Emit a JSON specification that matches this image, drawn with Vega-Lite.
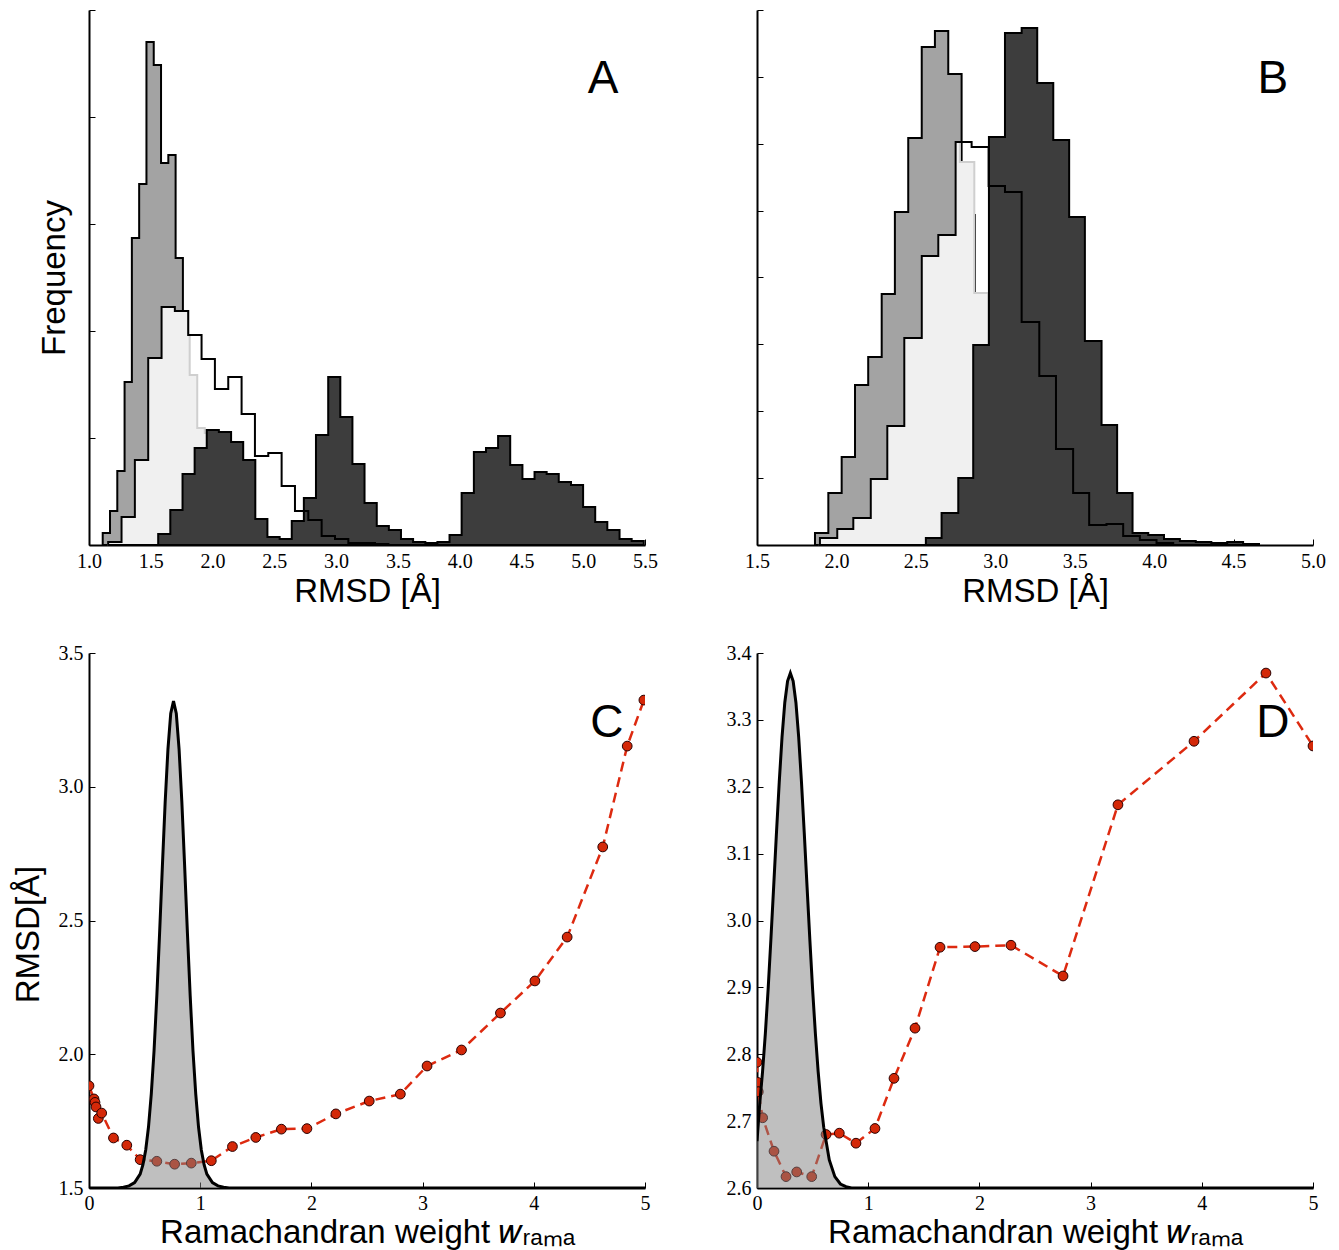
{
  "$schema": "https://vega.github.io/schema/vega-lite/v6.json",
  "background": "white",
  "padding": {"left": 12, "top": 9, "right": 5, "bottom": 2},
  "config": {
    "view": {"stroke": null},
    "font": "Liberation Sans",
    "axis": {
      "zindex": 1,
      "grid": false,
      "domainColor": "black",
      "domainWidth": 2,
      "tickColor": "black",
      "tickSize": -6,
      "tickWidth": 1,
      "labelFont": "Liberation Serif",
      "labelFontSize": 20,
      "labelColor": "black",
      "labelPadding": 12,
      "labelFlush": false,
      "labelOverlap": false,
      "labelBound": false,
      "titleFont": "Liberation Sans",
      "titleFontSize": 33,
      "titleFontWeight": "normal",
      "titleColor": "black"
    }
  },
  "datasets": {
    "A_G": [
      {"x": 1.111, "count": 12}, {"x": 1.170, "count": 34}, {"x": 1.229, "count": 74}, {"x": 1.288, "count": 163},
      {"x": 1.347, "count": 307}, {"x": 1.406, "count": 361}, {"x": 1.465, "count": 503}, {"x": 1.524, "count": 480},
      {"x": 1.583, "count": 382}, {"x": 1.642, "count": 390}, {"x": 1.701, "count": 287}, {"x": 1.760, "count": 150},
      {"x": 1.819, "count": 90}, {"x": 1.878, "count": 50}, {"x": 1.937, "count": 25}, {"x": 1.996, "count": 10},
      {"x": 2.055, "count": 4}, {"x": 2.114, "count": 0}
    ],
    "A_L": [
      {"x": 1.155, "count": 3}, {"x": 1.263, "count": 28}, {"x": 1.371, "count": 85}, {"x": 1.479, "count": 187},
      {"x": 1.587, "count": 238}, {"x": 1.695, "count": 234}, {"x": 1.803, "count": 210}, {"x": 1.815, "count": 170},
      {"x": 1.876, "count": 117}, {"x": 1.937, "count": 112}, {"x": 2.0, "count": 90}, {"x": 2.06, "count": 70},
      {"x": 2.12, "count": 50}, {"x": 2.18, "count": 30}, {"x": 2.24, "count": 15}, {"x": 2.3, "count": 6},
      {"x": 2.36, "count": 0}
    ],
    "A_D": [
      {"x": 1.560, "count": 11}, {"x": 1.658, "count": 35}, {"x": 1.757, "count": 71}, {"x": 1.855, "count": 97},
      {"x": 1.953, "count": 115}, {"x": 2.051, "count": 113}, {"x": 2.150, "count": 103}, {"x": 2.248, "count": 85},
      {"x": 2.346, "count": 26}, {"x": 2.444, "count": 8}, {"x": 2.543, "count": 6}, {"x": 2.641, "count": 24},
      {"x": 2.739, "count": 47}, {"x": 2.837, "count": 110}, {"x": 2.936, "count": 168}, {"x": 3.034, "count": 128},
      {"x": 3.132, "count": 81}, {"x": 3.230, "count": 42}, {"x": 3.329, "count": 19}, {"x": 3.427, "count": 15},
      {"x": 3.525, "count": 6}, {"x": 3.623, "count": 3}, {"x": 3.722, "count": 2}, {"x": 3.820, "count": 3},
      {"x": 3.918, "count": 10}, {"x": 4.016, "count": 52}, {"x": 4.115, "count": 93}, {"x": 4.213, "count": 97},
      {"x": 4.311, "count": 109}, {"x": 4.409, "count": 80}, {"x": 4.508, "count": 66}, {"x": 4.606, "count": 73},
      {"x": 4.704, "count": 71}, {"x": 4.802, "count": 63}, {"x": 4.901, "count": 60}, {"x": 4.999, "count": 38},
      {"x": 5.097, "count": 23}, {"x": 5.195, "count": 15}, {"x": 5.294, "count": 6}, {"x": 5.392, "count": 4},
      {"x": 5.490, "count": 0}
    ],
    "A_W": [
      {"x": 1.155, "count": 3}, {"x": 1.263, "count": 28}, {"x": 1.371, "count": 85}, {"x": 1.479, "count": 187},
      {"x": 1.587, "count": 238}, {"x": 1.695, "count": 234}, {"x": 1.803, "count": 210}, {"x": 1.911, "count": 186},
      {"x": 2.019, "count": 156}, {"x": 2.127, "count": 168}, {"x": 2.235, "count": 131}, {"x": 2.343, "count": 89},
      {"x": 2.451, "count": 92}, {"x": 2.559, "count": 59}, {"x": 2.667, "count": 34}, {"x": 2.775, "count": 25},
      {"x": 2.883, "count": 9}, {"x": 2.991, "count": 6}, {"x": 3.099, "count": 2}, {"x": 3.207, "count": 2},
      {"x": 3.315, "count": 1}, {"x": 3.423, "count": 0}
    ],
    "A_lab": [{"x": 5.16, "count": 466, "lab": "A"}],
    "B_G": [
      {"x": 1.865, "count": 12}, {"x": 1.949, "count": 52}, {"x": 2.033, "count": 88}, {"x": 2.117, "count": 160},
      {"x": 2.200, "count": 188}, {"x": 2.285, "count": 251}, {"x": 2.368, "count": 333}, {"x": 2.452, "count": 407},
      {"x": 2.537, "count": 498}, {"x": 2.620, "count": 514}, {"x": 2.704, "count": 471}, {"x": 2.788, "count": 330},
      {"x": 2.872, "count": 200}, {"x": 2.956, "count": 100}, {"x": 3.040, "count": 40}, {"x": 3.124, "count": 10},
      {"x": 3.208, "count": 0}
    ],
    "B_L": [
      {"x": 1.896, "count": 7}, {"x": 2.005, "count": 16}, {"x": 2.106, "count": 27}, {"x": 2.216, "count": 66},
      {"x": 2.320, "count": 119}, {"x": 2.427, "count": 207}, {"x": 2.537, "count": 289}, {"x": 2.641, "count": 310},
      {"x": 2.750, "count": 403}, {"x": 2.777, "count": 383}, {"x": 2.868, "count": 252}, {"x": 2.956, "count": 200},
      {"x": 3.060, "count": 150}, {"x": 3.166, "count": 100}, {"x": 3.264, "count": 60}, {"x": 3.365, "count": 30},
      {"x": 3.465, "count": 10}, {"x": 3.564, "count": 0}
    ],
    "B_D": [
      {"x": 2.563, "count": 7}, {"x": 2.662, "count": 32}, {"x": 2.767, "count": 67}, {"x": 2.861, "count": 200},
      {"x": 2.960, "count": 408}, {"x": 3.061, "count": 512}, {"x": 3.166, "count": 517}, {"x": 3.264, "count": 462},
      {"x": 3.365, "count": 405}, {"x": 3.465, "count": 328}, {"x": 3.564, "count": 204}, {"x": 3.669, "count": 120},
      {"x": 3.767, "count": 52}, {"x": 3.864, "count": 12}, {"x": 3.963, "count": 10}, {"x": 4.062, "count": 6},
      {"x": 4.162, "count": 4}, {"x": 4.262, "count": 3}, {"x": 4.360, "count": 2}, {"x": 4.460, "count": 3},
      {"x": 4.560, "count": 1}, {"x": 4.660, "count": 0}
    ],
    "B_W": [
      {"x": 1.896, "count": 7}, {"x": 2.005, "count": 16}, {"x": 2.106, "count": 27}, {"x": 2.216, "count": 66},
      {"x": 2.320, "count": 119}, {"x": 2.427, "count": 207}, {"x": 2.537, "count": 289}, {"x": 2.641, "count": 310},
      {"x": 2.750, "count": 403}, {"x": 2.851, "count": 398}, {"x": 2.958, "count": 359}, {"x": 3.061, "count": 353},
      {"x": 3.166, "count": 223}, {"x": 3.277, "count": 169}, {"x": 3.382, "count": 96}, {"x": 3.490, "count": 52},
      {"x": 3.591, "count": 20}, {"x": 3.700, "count": 21}, {"x": 3.805, "count": 9}, {"x": 3.910, "count": 5},
      {"x": 4.015, "count": 2}, {"x": 4.120, "count": 0}
    ],
    "B_lab": [{"x": 4.747, "count": 466, "lab": "B"}],
    "C_pts": [
      {"w": 0.0, "rmsd": 1.882}, {"w": 0.045, "rmsd": 1.833}, {"w": 0.054, "rmsd": 1.82}, {"w": 0.063, "rmsd": 1.803},
      {"w": 0.084, "rmsd": 1.76}, {"w": 0.114, "rmsd": 1.78}, {"w": 0.22, "rmsd": 1.687}, {"w": 0.34, "rmsd": 1.66},
      {"w": 0.46, "rmsd": 1.606}, {"w": 0.61, "rmsd": 1.6}, {"w": 0.77, "rmsd": 1.589}, {"w": 0.92, "rmsd": 1.593},
      {"w": 1.10, "rmsd": 1.602}, {"w": 1.29, "rmsd": 1.655}, {"w": 1.50, "rmsd": 1.689}, {"w": 1.73, "rmsd": 1.72},
      {"w": 1.96, "rmsd": 1.722}, {"w": 2.22, "rmsd": 1.777}, {"w": 2.52, "rmsd": 1.825}, {"w": 2.80, "rmsd": 1.851},
      {"w": 3.04, "rmsd": 1.956}, {"w": 3.35, "rmsd": 2.016}, {"w": 3.70, "rmsd": 2.154}, {"w": 4.01, "rmsd": 2.274},
      {"w": 4.30, "rmsd": 2.438}, {"w": 4.62, "rmsd": 2.775}, {"w": 4.84, "rmsd": 3.152}, {"w": 4.99, "rmsd": 3.324}
    ],
    "C_curve": [
      {"w": 0.0, "rmsd": 1.5}, {"w": 0.26, "rmsd": 1.5}, {"w": 0.31, "rmsd": 1.503}, {"w": 0.36, "rmsd": 1.508},
      {"w": 0.41, "rmsd": 1.52}, {"w": 0.46, "rmsd": 1.552},
      {"w": 0.485, "rmsd": 1.587}, {"w": 0.51, "rmsd": 1.642}, {"w": 0.535, "rmsd": 1.728}, {"w": 0.56, "rmsd": 1.851},
      {"w": 0.585, "rmsd": 2.013}, {"w": 0.61, "rmsd": 2.218}, {"w": 0.635, "rmsd": 2.454}, {"w": 0.66, "rmsd": 2.704},
      {"w": 0.685, "rmsd": 2.943}, {"w": 0.71, "rmsd": 3.141}, {"w": 0.735, "rmsd": 3.274}, {"w": 0.76, "rmsd": 3.32},
      {"w": 0.785, "rmsd": 3.274}, {"w": 0.81, "rmsd": 3.141}, {"w": 0.835, "rmsd": 2.943}, {"w": 0.86, "rmsd": 2.704},
      {"w": 0.885, "rmsd": 2.454}, {"w": 0.91, "rmsd": 2.218}, {"w": 0.935, "rmsd": 2.013}, {"w": 0.96, "rmsd": 1.851},
      {"w": 0.985, "rmsd": 1.728}, {"w": 1.01, "rmsd": 1.642}, {"w": 1.035, "rmsd": 1.587}, {"w": 1.06, "rmsd": 1.552},
      {"w": 1.11, "rmsd": 1.52}, {"w": 1.16, "rmsd": 1.508}, {"w": 1.21, "rmsd": 1.503}, {"w": 1.26, "rmsd": 1.5},
      {"w": 5.0, "rmsd": 1.5}
    ],
    "C_lab": [{"w": 4.658, "rmsd": 3.238, "lab": "C"}],
    "D_pts": [
      {"w": 0.0, "rmsd": 2.788}, {"w": 0.005, "rmsd": 2.758}, {"w": 0.012, "rmsd": 2.744}, {"w": 0.051, "rmsd": 2.705},
      {"w": 0.153, "rmsd": 2.655}, {"w": 0.261, "rmsd": 2.617}, {"w": 0.357, "rmsd": 2.624}, {"w": 0.492, "rmsd": 2.617},
      {"w": 0.621, "rmsd": 2.68}, {"w": 0.74, "rmsd": 2.682}, {"w": 0.89, "rmsd": 2.667}, {"w": 1.061, "rmsd": 2.689},
      {"w": 1.232, "rmsd": 2.764}, {"w": 1.421, "rmsd": 2.839}, {"w": 1.646, "rmsd": 2.96}, {"w": 1.96, "rmsd": 2.961},
      {"w": 2.284, "rmsd": 2.963}, {"w": 2.752, "rmsd": 2.917}, {"w": 3.246, "rmsd": 3.173}, {"w": 3.93, "rmsd": 3.268},
      {"w": 4.577, "rmsd": 3.37}, {"w": 5.0, "rmsd": 3.261}
    ],
    "D_curve": [
      {"w": 0.0, "rmsd": 2.67}, {"w": 0.025, "rmsd": 2.727}, {"w": 0.05, "rmsd": 2.774}, {"w": 0.075, "rmsd": 2.831},
      {"w": 0.1, "rmsd": 2.897}, {"w": 0.125, "rmsd": 2.972}, {"w": 0.15, "rmsd": 3.051}, {"w": 0.175, "rmsd": 3.131},
      {"w": 0.2, "rmsd": 3.207}, {"w": 0.225, "rmsd": 3.274}, {"w": 0.25, "rmsd": 3.326}, {"w": 0.275, "rmsd": 3.358},
      {"w": 0.3, "rmsd": 3.37}, {"w": 0.325, "rmsd": 3.358}, {"w": 0.35, "rmsd": 3.326}, {"w": 0.375, "rmsd": 3.274},
      {"w": 0.4, "rmsd": 3.207}, {"w": 0.425, "rmsd": 3.131}, {"w": 0.45, "rmsd": 3.051}, {"w": 0.475, "rmsd": 2.972},
      {"w": 0.5, "rmsd": 2.897}, {"w": 0.525, "rmsd": 2.831}, {"w": 0.55, "rmsd": 2.774}, {"w": 0.575, "rmsd": 2.727},
      {"w": 0.6, "rmsd": 2.691}, {"w": 0.65, "rmsd": 2.642}, {"w": 0.7, "rmsd": 2.617}, {"w": 0.75, "rmsd": 2.606},
      {"w": 0.8, "rmsd": 2.602}, {"w": 0.85, "rmsd": 2.6}, {"w": 5.0, "rmsd": 2.6}
    ],
    "D_lab": [{"w": 4.64, "rmsd": 3.295, "lab": "D"}]
  },
  "columns": 2,
  "bounds": "flush",
  "spacing": {"row": 108, "column": 112},
  "concat": [
    {
      "width": 556,
      "height": 535,
      "encoding": {
        "x": {"field": "x", "type": "quantitative", "scale": {"domain": [1, 5.5], "nice": false},
              "axis": {"values": [1, 1.5, 2, 2.5, 3, 3.5, 4, 4.5, 5, 5.5], "format": ".1f", "title": "RMSD [Å]", "titlePadding": 4}},
        "y": {"field": "count", "type": "quantitative", "scale": {"domain": [0, 535], "nice": false},
              "axis": {"values": [0, 107, 214, 321, 428, 535], "labels": false, "title": "Frequency", "titlePadding": 17}}
      },
      "layer": [
        {"data": {"name": "A_G"}, "mark": {"type": "area", "interpolate": "step-after", "fill": "#a3a3a3", "stroke": "black", "strokeWidth": 2}},
        {"data": {"name": "A_L"}, "mark": {"type": "area", "interpolate": "step-after", "fill": "#f0f0f0", "stroke": "#cfcfcf", "strokeWidth": 2}},
        {"data": {"name": "A_D"}, "mark": {"type": "area", "interpolate": "step-after", "fill": "#3d3d3d", "stroke": "black", "strokeWidth": 2}},
        {"data": {"name": "A_W"}, "mark": {"type": "area", "interpolate": "step-after", "fillOpacity": 0, "stroke": "black", "strokeWidth": 2}},
        {"data": {"name": "A_lab"}, "mark": {"type": "text", "fontSize": 46, "font": "Liberation Sans", "align": "center", "baseline": "middle", "color": "black"},
         "encoding": {"text": {"field": "lab"}}}
      ]
    },
    {
      "width": 556,
      "height": 535,
      "encoding": {
        "x": {"field": "x", "type": "quantitative", "scale": {"domain": [1.5, 5.0], "nice": false},
              "axis": {"values": [1.5, 2, 2.5, 3, 3.5, 4, 4.5, 5], "format": ".1f", "title": "RMSD [Å]", "titlePadding": 4}},
        "y": {"field": "count", "type": "quantitative", "scale": {"domain": [0, 535], "nice": false},
              "axis": {"values": [0, 67, 134, 201, 268, 334, 401, 468, 535], "labels": false, "title": null}}
      },
      "layer": [
        {"data": {"name": "B_G"}, "mark": {"type": "area", "interpolate": "step-after", "fill": "#a3a3a3", "stroke": "black", "strokeWidth": 2}},
        {"data": {"name": "B_L"}, "mark": {"type": "area", "interpolate": "step-after", "fill": "#f0f0f0", "stroke": "#cfcfcf", "strokeWidth": 2}},
        {"data": {"name": "B_D"}, "mark": {"type": "area", "interpolate": "step-after", "fill": "#3d3d3d", "stroke": "black", "strokeWidth": 2}},
        {"data": {"name": "B_W"}, "mark": {"type": "area", "interpolate": "step-after", "fillOpacity": 0, "stroke": "black", "strokeWidth": 2}},
        {"data": {"name": "B_lab"}, "mark": {"type": "text", "fontSize": 46, "font": "Liberation Sans", "align": "center", "baseline": "middle", "color": "black"},
         "encoding": {"text": {"field": "lab"}}}
      ]
    },
    {
      "width": 556,
      "height": 535,
      "encoding": {
        "x": {"field": "w", "type": "quantitative", "scale": {"domain": [0, 5], "nice": false},
              "axis": {"values": [0, 1, 2, 3, 4, 5], "format": "d", "title": "Ramachandran weight 𝑤ᵣₐₘₐ", "titlePadding": 3, "labelPadding": 11}},
        "y": {"field": "rmsd", "type": "quantitative", "scale": {"domain": [1.5, 3.5], "nice": false, "zero": false},
              "axis": {"values": [1.5, 2, 2.5, 3, 3.5], "format": ".1f", "title": "RMSD[Å]", "titlePadding": 13, "titleY": 281}}
      },
      "layer": [
        {"data": {"name": "C_pts"}, "mark": {"type": "line", "color": "#dd2a10", "strokeWidth": 2.5, "strokeDash": [10, 6], "clip": true}},
        {"data": {"name": "C_pts"}, "mark": {"type": "point", "filled": true, "fill": "#d42808", "stroke": "#2a0000", "strokeWidth": 1, "size": 95, "opacity": 1, "clip": true}},
        {"data": {"name": "C_curve"}, "mark": {"type": "area", "fill": "#808080", "fillOpacity": 0.5}, "encoding": {"y2": {"datum": 1.5}}},
        {"data": {"name": "C_curve"}, "mark": {"type": "line", "color": "black", "strokeWidth": 3, "clip": true}},
        {"data": {"name": "C_lab"}, "mark": {"type": "text", "fontSize": 46, "font": "Liberation Sans", "align": "center", "baseline": "middle", "color": "black"},
         "encoding": {"text": {"field": "lab"}}}
      ]
    },
    {
      "width": 556,
      "height": 535,
      "encoding": {
        "x": {"field": "w", "type": "quantitative", "scale": {"domain": [0, 5], "nice": false},
              "axis": {"values": [0, 1, 2, 3, 4, 5], "format": "d", "title": "Ramachandran weight 𝑤ᵣₐₘₐ", "titlePadding": 3, "labelPadding": 11}},
        "y": {"field": "rmsd", "type": "quantitative", "scale": {"domain": [2.6, 3.4], "nice": false, "zero": false},
              "axis": {"values": [2.6, 2.7, 2.8, 2.9, 3.0, 3.1, 3.2, 3.3, 3.4], "format": ".1f", "title": null}}
      },
      "layer": [
        {"data": {"name": "D_pts"}, "mark": {"type": "line", "color": "#dd2a10", "strokeWidth": 2.5, "strokeDash": [10, 6], "clip": true}},
        {"data": {"name": "D_pts"}, "mark": {"type": "point", "filled": true, "fill": "#d42808", "stroke": "#2a0000", "strokeWidth": 1, "size": 95, "opacity": 1, "clip": true}},
        {"data": {"name": "D_curve"}, "mark": {"type": "area", "fill": "#808080", "fillOpacity": 0.5}, "encoding": {"y2": {"datum": 2.6}}},
        {"data": {"name": "D_curve"}, "mark": {"type": "line", "color": "black", "strokeWidth": 3, "clip": true}},
        {"data": {"name": "D_lab"}, "mark": {"type": "text", "fontSize": 46, "font": "Liberation Sans", "align": "center", "baseline": "middle", "color": "black"},
         "encoding": {"text": {"field": "lab"}}}
      ]
    }
  ]
}
